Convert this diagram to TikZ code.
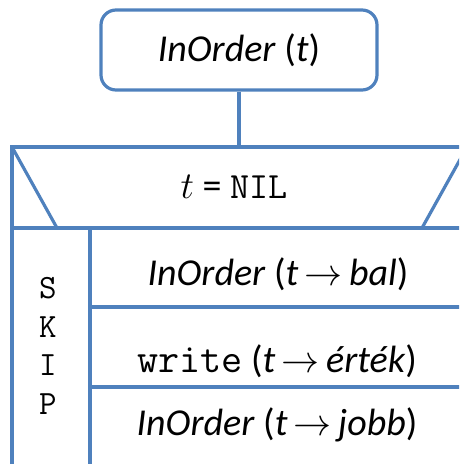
\RequirePackage{fix-cm}
\documentclass[tikz,border=0pt]{standalone}
\usepackage{fontspec}
\setmainfont{Carlito}
\definecolor{frameblue}{HTML}{4F81BD}
\newcommand{\arr}{\,$\rightarrow$\,}
\newcommand{\mono}[2]{{\fontsize{#1}{#1}\selectfont\ttfamily #2}}
\begin{document}
\begin{tikzpicture}[x=1pt,y=-1pt,
  frame/.style={draw=frameblue,line width=3.2pt},
  headbox/.style={frame,rounded corners=15pt,minimum width=276pt,minimum height=80pt,
    inner sep=0pt,font=\fontsize{38}{42}\selectfont},
  rowtext/.style={anchor=base,inner sep=0pt,font=\fontsize{38}{42}\selectfont},
  skiptext/.style={inner sep=0pt,font=\fontsize{34}{38.5}\selectfont\ttfamily,align=center}]
\useasboundingbox (0,0) rectangle (459,464);
\clip (0,0) rectangle (459,464);

% procedure head
\node[headbox] (head) at (239,50) {\textit{InOrder} (\textit{t})};

% structogram frame: condition strip, SKIP branch and the three statements
\coordinate (condtop) at (239,147);
\draw[frame] (12,475) -- (12,147) -- (467,147) -- (467,475);
\draw[frame] (12,228) -- (467,228);
\draw[frame] (12,147) -- (57,228);
\draw[frame] (467,147) -- (422,228);
\draw[frame] (90,228) -- (90,475);
\draw[frame] (90,307) -- (467,307);
\draw[frame] (90,387) -- (467,387);

\draw[frame] (head.south) -- (condtop);

% texts
\node[rowtext] (cond) at (234,198) {$t$ = \mono{37}{NIL}};
\node[skiptext] (skip) at (48,346) {S\\K\\I\\P};
\node[rowtext] (left) at (278,285) {\textit{InOrder} (\textit{t}\arr\textit{bal})};
\node[rowtext] (write) at (277,372) {\mono{41}{write} (\textit{t}\arr\textit{érték})};
\node[rowtext] (right) at (277,435) {\textit{InOrder} (\textit{t}\arr\textit{jobb})};
\end{tikzpicture}
\end{document}
